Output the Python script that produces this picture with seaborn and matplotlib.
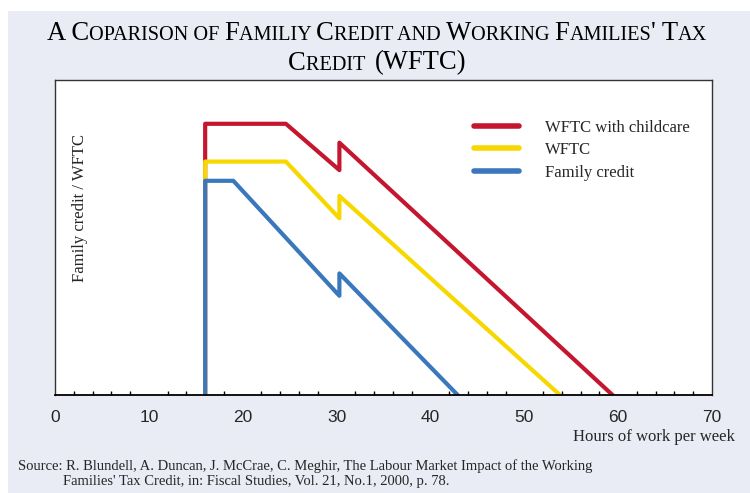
import numpy as np
import pandas as pd
import matplotlib
matplotlib.use("Agg")
import matplotlib.pyplot as plt
import seaborn as sns
from matplotlib.offsetbox import TextArea, HPacker, AnchoredOffsetbox
from matplotlib.patches import Rectangle
from matplotlib.ticker import MultipleLocator

# ---- data (y in arbitrary units, 0-100) ----
series_names = ["WFTC with childcare", "WFTC", "Family credit"]
red_hours = [16, 16, 24.6, 30.3, 30.3, 59.4]
red_credit = [0, 86.1, 86.1, 71.4, 80.1, 0]
yellow_hours = [16, 16, 24.6, 30.3, 30.3, 53.8]
yellow_credit = [0, 74.1, 74.1, 56.1, 63.2, 0]
blue_hours = [16, 16, 19.0, 30.3, 30.3, 42.9]
blue_credit = [0, 68.0, 68.0, 31.5, 38.6, 0]
x_ticks = [0, 10, 20, 30, 40, 50, 60, 70]
colors = ["#C4172F", "#F6D800", "#3B77BC"]

sns.set_style("white")
plt.rcParams["font.family"] = ["Liberation Serif", "DejaVu Serif"]

frames = []
for name, hx, cy in zip(series_names,
                        [red_hours, yellow_hours, blue_hours],
                        [red_credit, yellow_credit, blue_credit]):
    frames.append(pd.DataFrame({"hours": hx, "credit": cy, "series": name,
                                "order": range(len(hx))}))
df = pd.concat(frames, ignore_index=True)

W, H = 750, 493
fig = plt.figure(figsize=(W / 100, H / 100), dpi=100, facecolor="white")
fig.patches.append(Rectangle((8 / W, 0), 1 - 8 / W, 1 - 11 / H,
                             transform=fig.transFigure, facecolor="#E9EBF5",
                             edgecolor="none", zorder=-10))

L, R, T, B = 55, 712, 80, 395
ax = fig.add_axes([L / W, 1 - B / H, (R - L) / W, (B - T) / H])
ax.set_facecolor("white")

sns.lineplot(data=df, x="hours", y="credit", hue="series", hue_order=series_names,
             palette=colors, sort=False, estimator=None, units="series",
             linewidth=3.0, ax=ax, legend=False)

ax.set_xlim(0, 70)
ax.set_ylim(0, 100)
ax.set_xticks(x_ticks)
ax.set_xticklabels([str(t) for t in x_ticks], family="Liberation Sans", fontsize=12.5)
ax.xaxis.set_minor_locator(MultipleLocator(2))
ax.tick_params(axis="x", which="major", direction="inout", length=9, width=1,
               color="black", pad=6)
ax.tick_params(axis="x", which="minor", direction="in", length=3, width=1,
               color="black", bottom=True)
ax.set_yticks([])
ax.set_xlabel("")
ax.set_ylabel("")

for s in ["left", "top", "right"]:
    ax.spines[s].set_color("#333333")
    ax.spines[s].set_linewidth(1.0)
ax.spines["bottom"].set_color("black")
ax.spines["bottom"].set_linewidth(1.3)

# legend
handles = [plt.Line2D([], [], color=c, lw=4) for c in colors]
ax.legend(handles, series_names, loc="upper left",
          bbox_to_anchor=((474 - L) / (R - L), (B - 120) / (B - T)),
          frameon=False, fontsize=12, handlelength=2.7, handletextpad=1.55,
          labelspacing=0.38, borderpad=0, borderaxespad=0)

# y label inside axes
ax.text((80 - L) / (R - L), (B - 208) / (B - T), "Family credit / WFTC",
        rotation=90, ha="center", va="center", fontsize=12, transform=ax.transAxes)

# x label
fig.text(735 / W, 1 - 437 / H, "Hours of work per week", ha="right", va="center",
         fontsize=12)

# source
fig.text(18 / W, 1 - 466 / H,
         "Source: R. Blundell, A. Duncan, J. McCrae, C. Meghir, The Labour Market Impact of the Working",
         ha="left", va="center", fontsize=10.5)
fig.text(63 / W, 1 - 482 / H,
         "Families' Tax Credit, in: Fiscal Studies, Vol. 21, No.1, 2000, p. 78.",
         ha="left", va="center", fontsize=10.5)

# small-caps title
def small_caps(text, big=19.2, small=14.6):
    runs = []
    cur, cur_small = "", None
    for ch in text:
        is_small = ch.islower()
        if ch == " " and cur_small is not None:
            is_small = cur_small
        if cur_small is None or is_small == cur_small:
            cur += ch
            cur_small = is_small
        else:
            runs.append((cur, cur_small))
            cur, cur_small = ch, is_small
    if cur:
        runs.append((cur, cur_small))
    children = [TextArea(t.upper(), textprops=dict(fontsize=(small if sm else big),
                                                   color="black"))
                for t, sm in runs]
    return HPacker(children=children, align="baseline", pad=0, sep=0)

for line, ypx in [("A Coparison of Familiy Credit and Working Families' Tax", 33),
                  ("Credit  (WFTC)", 63)]:
    box = small_caps(line)
    anch = AnchoredOffsetbox(loc="center", child=box, pad=0, borderpad=0,
                             frameon=False, bbox_to_anchor=(377 / W, 1 - ypx / H),
                             bbox_transform=fig.transFigure)
    fig.add_artist(anch)

fig.savefig("out.png", dpi=100, facecolor=fig.get_facecolor())
